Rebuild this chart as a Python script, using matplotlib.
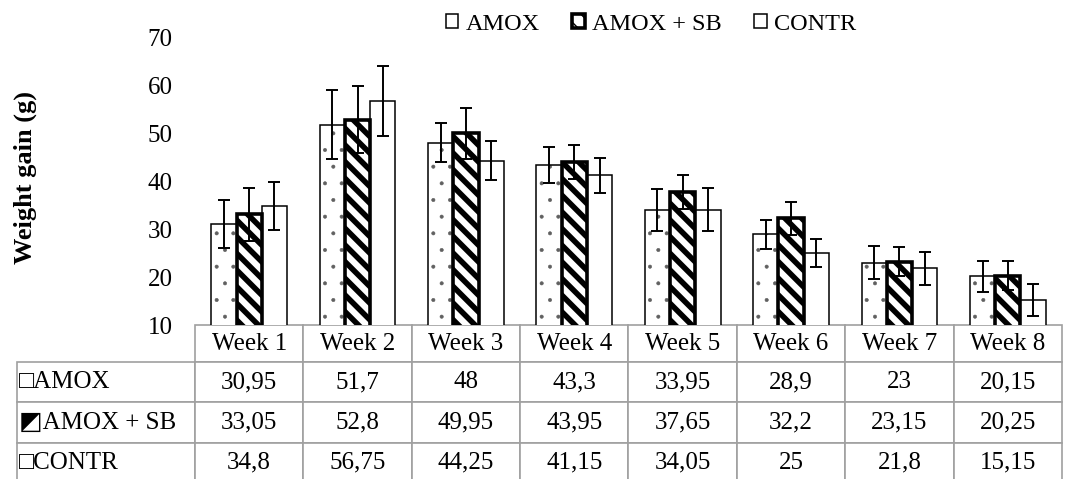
import numpy as np
import matplotlib
matplotlib.use("Agg")
import matplotlib.pyplot as plt

plt.rcParams['font.family'] = ['Liberation Serif', 'DejaVu Sans']

# Dados
semanas = ["Week 1", "Week 2", "Week 3", "Week 4", "Week 5", "Week 6", "Week 7", "Week 8"]
grupos = ["AMOX", "AMOX + SB", "CONTR"]
amox = [30.95, 51.7, 48, 43.3, 33.95, 28.9, 23, 20.15]
amox_sb = [33.05, 52.8, 49.95, 43.95, 37.65, 32.2, 23.15, 20.25]
contr = [34.8, 56.75, 44.25, 41.15, 34.05, 25, 21.8, 15.15]
# Desvios
err_amox = [5.0, 7.2, 4.0, 3.7, 4.4, 3.0, 3.4, 3.2]
err_amox_sb = [5.5, 7.0, 5.3, 3.5, 3.5, 3.5, 3.0, 3.0]
err_contr = [5.0, 7.3, 4.0, 3.6, 4.4, 3.0, 3.4, 3.3]
# Texto da tabela
rotulos = ["\u25a1AMOX", "\u25e9AMOX + SB", "\u25a1CONTR"]
textos = [["30,95", "51,7", "48", "43,3", "33,95", "28,9", "23", "20,15"],
          ["33,05", "52,8", "49,95", "43,95", "37,65", "32,2", "23,15", "20,25"],
          ["34,8", "56,75", "44,25", "41,15", "34,05", "25", "21,8", "15,15"]]

W, H = 1067, 479
fig = plt.figure(figsize=(W / 100, H / 100), dpi=100)
ax = fig.add_axes([195 / W, 1 - 325 / H, 867 / W, 288 / H])

x = np.arange(len(semanas))
largura = 0.233
err_kw = dict(ecolor='black', elinewidth=1.4, capsize=4, capthick=1.4)

# AMOX: pontos cinza + contorno preto
with plt.rc_context({'hatch.linewidth': 0.4}):
    ax.bar(x - largura, amox, largura, color='white', edgecolor='#606060',
           linewidth=0, hatch='.', zorder=2)
b1 = ax.bar(x - largura, amox, largura, yerr=err_amox, color='none', edgecolor='black',
            linewidth=1.1, label=grupos[0], error_kw=err_kw, zorder=2)
with plt.rc_context({'hatch.linewidth': 4.0}):
    b2 = ax.bar(x, amox_sb, largura, yerr=err_amox_sb, color='white', edgecolor='black',
                linewidth=2.6, hatch='\\\\', label=grupos[1], error_kw=err_kw, zorder=3)
b3 = ax.bar(x + largura, contr, largura, yerr=err_contr, color='white', edgecolor='black',
            linewidth=1.1, label=grupos[2], error_kw=err_kw, zorder=2)

ax.set_xlim(-0.5, len(semanas) - 0.5)
ax.set_ylim(10, 70)
ax.set_yticks(np.arange(10, 71, 10))
ax.set_xticks([])
ax.tick_params(axis='y', length=0, pad=16, labelsize=18)
for s in ['left', 'right', 'top', 'bottom']:
    ax.spines[s].set_visible(False)

fig.text(25 / W, 1 - 178 / H, "Weight gain (g)", rotation=90, ha='center', va='center',
         fontsize=19, fontweight='bold')

# Tabela de dados
celulas = [[r] + t for r, t in zip(rotulos, textos)]
tab = ax.table(cellText=celulas, colLabels=[""] + semanas, cellLoc='center',
               bbox=[-178 / 867, -158 / 288, 1045 / 867, 158 / 288])
tab.auto_set_font_size(False)
tab.set_fontsize(18)
for (r, c), cel in tab.get_celld().items():
    cel.set_edgecolor('#a0a0a0')
    cel.set_linewidth(1.2)
    cel.set_width(178 if c == 0 else 108.4)
    cel.set_height(37 if r == 0 else 40)
    if r == 0 and c == 0:
        cel.visible_edges = ''
    if c == 0 and r > 0:
        cel.get_text().set_ha('left')
        cel.PAD = 0.01

leg = fig.legend(handles=[b1, b2, b3], labels=grupos, loc='center', ncol=3,
                 bbox_to_anchor=(651 / W, 1 - 24 / H), frameon=False, fontsize=17.5,
                 handlelength=0.5, handleheight=0.5, handletextpad=0.3,
                 columnspacing=1.35)

fig.savefig("out.png", dpi=100)
